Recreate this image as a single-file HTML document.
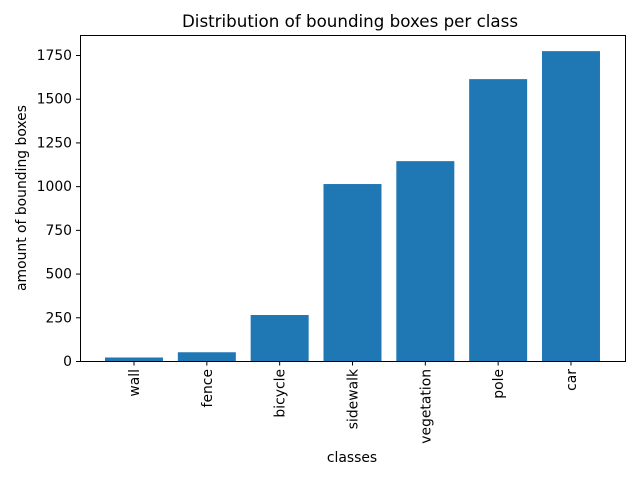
<!DOCTYPE html>
<html><head><meta charset="utf-8"><style>body{margin:0;background:#fff}svg{display:block;font-family:"DejaVu Sans","Liberation Sans",sans-serif}</style></head>
<body>
<svg id="chart" width="640" height="480">
<rect x="0" y="0" width="640" height="480" fill="#fff"/>
<text x="350" y="27" text-anchor="middle" font-size="16.7">Distribution of bounding boxes per class</text>
<g id="bars"></g><g id="yticks"></g><g id="xticks"></g>
<rect x="80.5" y="35.5" width="545" height="326" fill="none" stroke="#000" stroke-width="1"/>
<text x="352" y="462" text-anchor="middle" font-size="13.9">classes</text>
<text transform="translate(26,198) rotate(-90)" text-anchor="middle" font-size="13.9">amount of bounding boxes</text>
</svg>
<script>
const categories=["wall","fence","bicycle","sidewalk","vegetation","pole","car"];
const counts=[20,50,263,1012,1143,1612,1772];
const yTicks=[0,250,500,750,1000,1250,1500,1750];
const NS="http://www.w3.org/2000/svg";
function xs(i){return 134+72.83*i;}
function ys(v){return 361-v*0.17486;}
function mk(t,a,p){const e=document.createElementNS(NS,t);for(const k in a)e.setAttribute(k,a[k]);document.getElementById(p).appendChild(e);return e;}
categories.forEach((c,i)=>{
 const b=mk("rect",{x:xs(i)-29,y:ys(counts[i]),width:58,height:ys(0)-ys(counts[i]),fill:"#1f77b4"},"bars");
 
 
 const t=mk("line",{x1:xs(i),x2:xs(i),y1:361,y2:365.5,stroke:"#000"},"xticks");
 
 
 const l=mk("text",{transform:`translate(${xs(i)+5},369) rotate(-90)`,"text-anchor":"end","font-size":"13.9"},"xticks");
 l.textContent=c;
 
 
});
yTicks.forEach(v=>{
 const t=mk("line",{x1:76,x2:80.5,y1:ys(v)+0.5,y2:ys(v)+0.5,stroke:"#000"},"yticks");
 
 
 const l=mk("text",{x:72,y:ys(v)+5,"text-anchor":"end","font-size":"13.9"},"yticks");
 l.textContent=v;
 
 
});
</script>
</body></html>
